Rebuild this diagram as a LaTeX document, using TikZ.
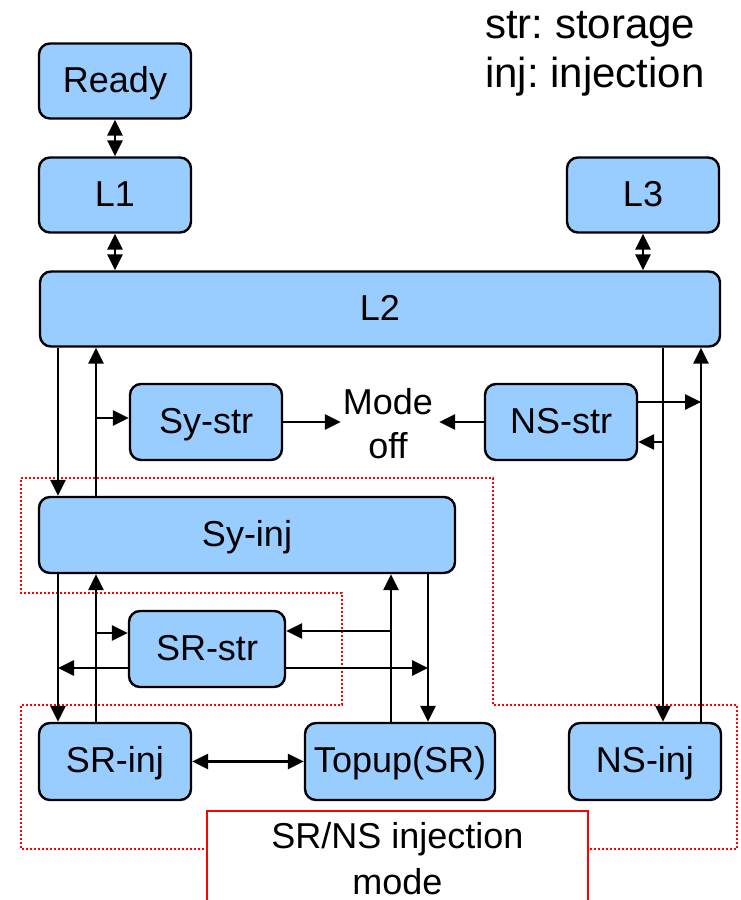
\documentclass[tikz,border=0pt]{standalone}
\usepackage{fontspec}
\setmainfont{Liberation Sans}
\usetikzlibrary{arrows.meta}
\definecolor{boxblue}{RGB}{153,204,255}
\frenchspacing
\begin{document}
\begin{tikzpicture}[x=1pt,y=-1pt,
  box/.style={draw=black,line width=2.4pt,fill=boxblue,rounded corners=11pt,
    inner sep=0pt,text height=26pt,text depth=4pt,font=\fontsize{36}{43}\selectfont},
  tip/.tip={Triangle[length=16pt,width=15pt]},
  arr/.style={line width=2.7pt,-tip},
  darr/.style={line width=2.7pt,tip-tip},
  zone/.style={draw=red,line width=1.6pt,dash pattern=on 2pt off 2pt},
  legend/.style={anchor=base west,inner sep=0pt,font=\fontsize{42}{50}\selectfont},
]
\useasboundingbox (0,0) rectangle (741,900);

% column positions of the vertical connectors
\coordinate (xa) at (58,0);
\coordinate (xb) at (96,0);
\coordinate (xc) at (391,0);
\coordinate (xd) at (428,0);
\coordinate (xe) at (663,0);
\coordinate (xf) at (701,0);

% dotted outline of the injection-mode group
\draw[zone] (21,478) -- (493,478) -- (493,705) -- (737,705) -- (737,849)
  -- (21,849) -- (21,705) -- (342,705) -- (342,593) -- (21,593) -- cycle;

% legend
\node[legend] (leg1) at (485,38) {str: storage};
\node[legend] (leg2) at (485,87) {inj: injection};

% states
\node[box,minimum width=152pt,minimum height=75pt] (ready) at (115,81) {Ready};
\node[box,minimum width=152pt,minimum height=75pt] (L1) at (115,195) {L1};
\node[box,minimum width=152pt,minimum height=75pt] (L3) at (643,195) {L3};
\node[box,minimum width=680pt,minimum height=75pt] (L2) at (380,309) {L2};
\node[box,minimum width=152pt,minimum height=76pt] (systr) at (206,422) {Sy-str};
\node[box,minimum width=152pt,minimum height=76pt] (nsstr) at (561,422) {NS-str};
\node[align=center,inner sep=2pt,font=\fontsize{36}{44}\selectfont] (off) at (388,424) {Mode\\off};
\node[box,minimum width=416pt,minimum height=76pt] (syinj) at (247,535) {Sy-inj};
\node[box,minimum width=156pt,minimum height=76pt] (srstr) at (207,649) {SR-str};
\node[box,minimum width=152pt,minimum height=77pt] (srinj) at (115,761.5) {SR-inj};
\node[box,minimum width=190pt,minimum height=77pt] (topup) at (400,761.5) {Topup(SR)};
\node[box,minimum width=152pt,minimum height=77pt] (nsinj) at (645,761.5) {NS-inj};

% label box of the injection-mode group
\node[draw=red,line width=1.6pt,fill=white,minimum width=381pt,minimum height=96pt,
  inner sep=0pt,align=center,font=\fontsize{36}{46}\selectfont] (injmode)
  at (397.5,859) {SR/NS injection\\mode};

% transitions
\draw[darr] (ready.south) -- (L1.north);
\draw[darr] (L1.south) -- (L1.south |- L2.north);
\draw[darr] (L3.south) -- (L3.south |- L2.north);

\draw[arr] (L2.south -| xa) -- (syinj.north -| xa);
\draw[arr] (syinj.north -| xb) -- (L2.south -| xb);
\draw[arr] ([yshift=4pt]systr.west -| xb) -- ([yshift=4pt]systr.west);
\draw[arr] (systr.east) -- (systr.east -| off.west);
\draw[arr] (nsstr.west) -- ([xshift=4pt]nsstr.west -| off.east);

\draw[arr] (L2.south -| xe) -- (nsinj.north -| xe);
\draw[arr] (nsinj.north -| xf) -- (L2.south -| xf);
\draw[arr] ([yshift=20pt]nsstr.east) -- ([yshift=20pt]nsstr.east -| xf);
\draw[arr] ([yshift=-20pt]nsstr.east -| xe) -- ([yshift=-20pt]nsstr.east);

\draw[arr] (syinj.south -| xa) -- (srinj.north -| xa);
\draw[arr] (srinj.north -| xb) -- (syinj.south -| xb);
\draw[arr] ([yshift=16pt]srstr.west -| xb) -- ([yshift=16pt]srstr.west);
\draw[arr] ([yshift=-19pt]srstr.west) -- ([yshift=-19pt]srstr.west -| xa);

\draw[arr] (topup.north -| xc) -- (syinj.south -| xc);
\draw[arr] (syinj.south -| xd) -- (topup.north -| xd);
\draw[arr] ([yshift=18pt]srstr.east -| xc) -- ([yshift=18pt]srstr.east);
\draw[arr] ([yshift=-19pt]srstr.east) -- ([yshift=-19pt]srstr.east -| xd);

\draw[darr] (srinj.east) -- (topup.west);
\end{tikzpicture}
\end{document}
